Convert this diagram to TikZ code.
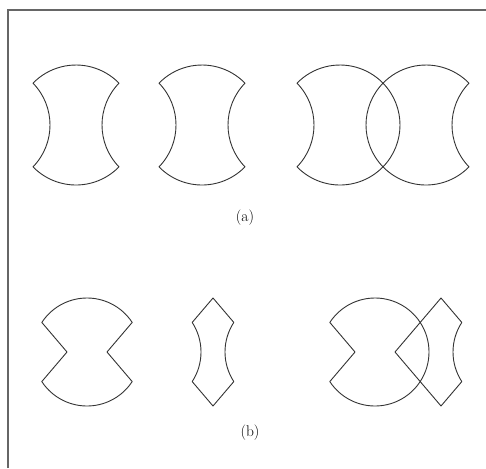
\documentclass[tikz,border=0pt]{standalone}
\usepackage{tikz}
\usetikzlibrary{positioning}
\tikzset{
    outline/.style={draw=black!80, line width=0.9pt, line join=round},
    frameline/.style={draw=black!60, line width=1.3pt},
    caption/.style={font=\fontsize{15.5}{18}\selectfont, inner sep=0pt}
}

\begin{document}
\begin{tikzpicture}[x=1pt, y=-1pt]
    \useasboundingbox (0,0) rectangle (486,468);
    % frame
    \draw[frameline] (8,468) -- (8,10) -- (486,10);

    % (a) circles with circular bites
    \foreach \cx in {76,202,340,426} {
        \draw[outline] (\cx+43,125-41.83)
            arc[start angle=-44.22, end angle=-135.78, radius=60]
            arc[start angle=-44.22, end angle=44.22, radius=60]
            arc[start angle=135.78, end angle=44.22, radius=60]
            arc[start angle=135.78, end angle=224.22, radius=60] -- cycle;
    }
    \node[caption] (lbla) at (245,218) {(a)};

    % (b) circles with diamond notches
    \foreach \cx in {87,375} {
        \draw[outline] (\cx+45.19,352-29.57)
            arc[start angle=-33.2, end angle=-146.8, radius=54]
            -- (\cx-20,352) -- (\cx-45.19,352+29.57)
            arc[start angle=146.8, end angle=33.2, radius=54]
            -- (\cx+20,352) -- cycle;
    }
    % (b) diamonds with circular bites
    \foreach \cx in {213,441} {
        \draw[outline] (\cx,352-54) -- (\cx+20.81,352-29.57)
            arc[start angle=213.2, end angle=146.8, radius=54]
            -- (\cx,352+54) -- (\cx-20.81,352+29.57)
            arc[start angle=33.2, end angle=-33.2, radius=54] -- cycle;
    }
    \node[caption] (lblb) at (250,433) {(b)};
\end{tikzpicture}
\end{document}
